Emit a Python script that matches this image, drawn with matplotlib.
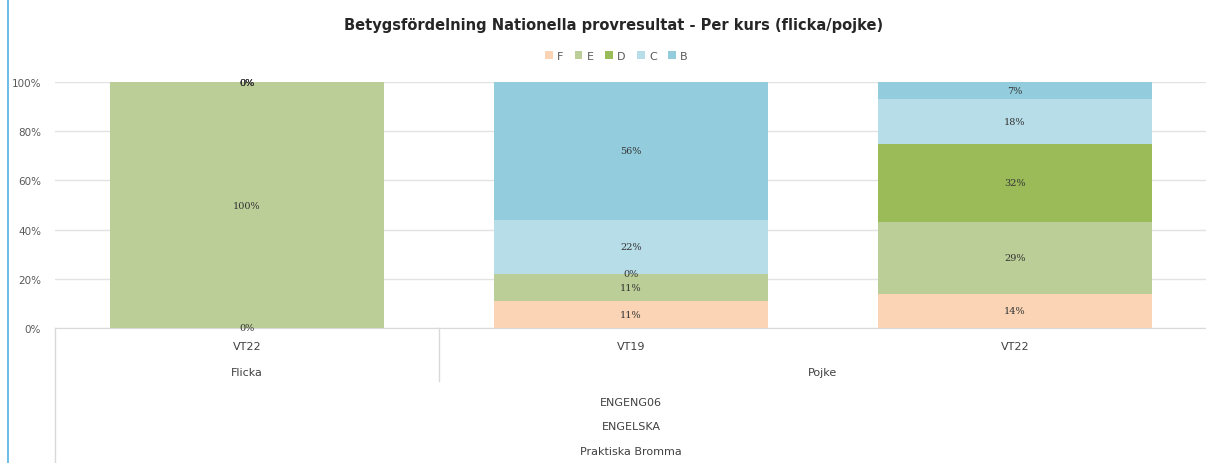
import matplotlib.pyplot as plt
import numpy as np
from matplotlib.lines import Line2D

# kategorier och värden (procent)
kurs_tid = ['VT22', 'VT19', 'VT22']
kon = ['Flicka', 'Pojke']
kon_pos = [0, 1.5]
nivaer = ['ENGENG06', 'ENGELSKA', 'Praktiska Bromma']
betyg = ['F', 'E', 'D', 'C', 'B']
F = [0, 11, 14]
E = [100, 11, 29]
D = [0, 0, 32]
C = [0, 22, 18]
B = [0, 56, 7]
farger = ['#FAD4B4', '#BBCE97', '#9BBB59', '#B7DDE8', '#93CDDD']

fig = plt.figure(figsize=(12.06, 4.64), dpi=100)
ax = fig.add_axes([0.0456, 0.291, 0.9552, 0.53])

x = np.arange(len(kurs_tid))
botten = np.zeros(len(kurs_tid))
for namn, varden, farg in zip(betyg, [F, E, D, C, B], farger):
    varden = np.array(varden, dtype=float)
    ax.bar(x, varden, bottom=botten, width=0.716, color=farg, label=namn, zorder=2)
    for xi, b, v in zip(x, botten, varden):
        ax.text(xi, b + v / 2, f'{v:.0f}%', ha='center', va='center',
                fontsize=7, family='DejaVu Serif', color='#333333', zorder=3)
    botten += varden

ax.set_xlim(-0.5, 2.5)
ax.set_ylim(0, 100)
ax.set_yticks(range(0, 101, 20))
ax.set_yticklabels([f'{t}%' for t in range(0, 101, 20)])
ax.tick_params(axis='y', length=0, labelsize=7.5, labelcolor='#595959', pad=10)
ax.set_xticks([])
ax.grid(axis='y', color='#E3E3E3', linewidth=1, zorder=0)
for s in ['top', 'right', 'left']:
    ax.spines[s].set_visible(False)
ax.spines['bottom'].set_color('#D9D9D9')

# flernivå-axel under diagrammet
tr = ax.get_xaxis_transform()
for xi, t in zip(x, kurs_tid):
    ax.text(xi, -0.075, t, transform=tr, ha='center', va='center', fontsize=8, color='#404040')
for xp, t in zip(kon_pos, kon):
    ax.text(xp, -0.18, t, transform=tr, ha='center', va='center', fontsize=8, color='#404040')
for i, t in enumerate(nivaer):
    ax.text(1, -0.30 - i * 0.10, t, transform=tr, ha='center', va='center', fontsize=8, color='#404040')
ax.add_line(Line2D([-0.5, -0.5], [0, -0.55], transform=tr, color='#D9D9D9', lw=1, clip_on=False))
ax.add_line(Line2D([0.5, 0.5], [0, -0.215], transform=tr, color='#D9D9D9', lw=1, clip_on=False))

# blå kantlinje till vänster
fig.add_artist(Line2D([0.0065, 0.0065], [0.0, 1.0], color='#4FB3E0', lw=1.2))

fig.text(0.509, 0.945, 'Betygsfördelning Nationella provresultat - Per kurs (flicka/pojke)',
         ha='center', va='center', fontsize=10.5, fontweight='bold', color='#262626')
fig.legend(loc='center', bbox_to_anchor=(0.511, 0.877), ncol=5, frameon=False,
           fontsize=8, handlelength=0.7, handleheight=0.7, handletextpad=0.4,
           columnspacing=1.0, labelcolor='#595959')

fig.savefig('out.png', dpi=100)
